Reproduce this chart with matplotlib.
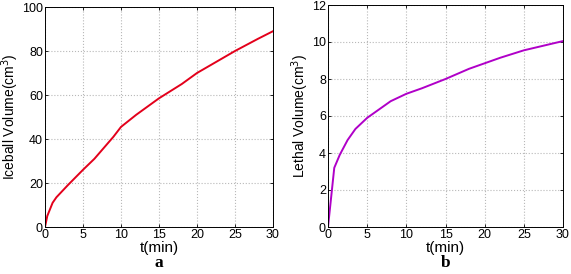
import matplotlib
matplotlib.use("Agg")
import matplotlib.pyplot as plt

plt.rcParams["font.family"] = ["Liberation Sans", "DejaVu Sans"]

# 冰球体积 (a)
t_ice = [0, 0.3, 1.0, 1.5, 3, 5, 6.5, 8, 9, 10, 12, 15, 18, 20, 23, 25, 28, 30]
v_ice = [0, 5, 11, 13.5, 19, 26, 31, 37, 41, 45.5, 51, 58.5, 65, 70, 76, 80, 85.5, 89]

# 致死体积 (b)
t_leth = [0, 0.8, 1.5, 2.5, 3.5, 5, 6, 7, 8, 10, 12, 15, 18, 20, 22, 25, 27, 30]
v_leth = [0, 3.2, 3.9, 4.7, 5.3, 5.9, 6.2, 6.5, 6.8, 7.2, 7.5, 8.0, 8.55, 8.85, 9.15, 9.55, 9.75, 10.05]

W, H = 571, 274
fig = plt.figure(figsize=(W / 100, H / 100), dpi=100)
fig.patch.set_facecolor("white")

ax1 = fig.add_axes([45 / W, 1 - 227 / H, (273 - 45) / W, (227 - 7) / H])
ax2 = fig.add_axes([328 / W, 1 - 227 / H, (563 - 328) / W, (227 - 5) / H])


def style(ax, ylim, yticks, ylabel, color, x, y, letter):
    ax.plot(x, y, color=color, linewidth=1.4)
    ax.set_xlim(0, 30)
    ax.set_ylim(*ylim)
    ax.set_xticks([0, 5, 10, 15, 20, 25, 30])
    ax.set_yticks(yticks)
    ax.grid(True, color="#b8b8b8", linestyle=":", linewidth=0.8)
    ax.tick_params(labelsize=9, direction="in", length=2, pad=1.5,
                   top=True, right=True, width=0.6)
    for s in ax.spines.values():
        s.set_linewidth(0.7)
    ax.set_xlabel("t(min)", fontsize=11, labelpad=0)
    ax.set_ylabel(ylabel, fontsize=10, labelpad=1)
    ax.text(0.5, -36 / 220, letter, transform=ax.transAxes, ha="center", va="center",
            fontsize=12.5, fontweight="bold", family="Liberation Serif")


style(ax1, (0, 100), [0, 20, 40, 60, 80, 100], "Iceball Volume(cm$^3$)", "#e3001b",
      t_ice, v_ice, "a")
style(ax2, (0, 12), [0, 2, 4, 6, 8, 10, 12], "Lethal Volume(cm$^3$)", "#b000c8",
      t_leth, v_leth, "b")

plt.savefig("out.png", dpi=100)
plt.close()
